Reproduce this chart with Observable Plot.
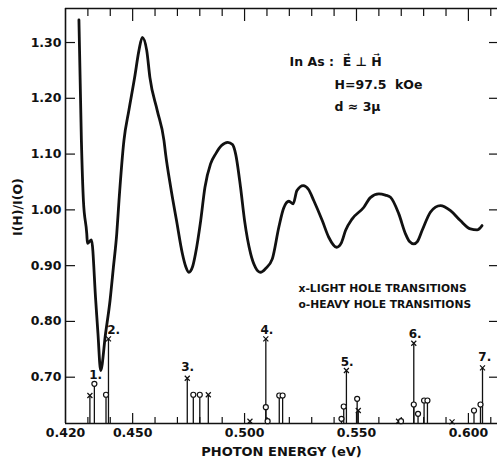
<!DOCTYPE html>
<html><head><meta charset="utf-8">
<script src="https://cdn.jsdelivr.net/npm/d3@7"></script>
<script src="https://cdn.jsdelivr.net/npm/@observablehq/plot@0.6"></script>
<style>html,body{margin:0;padding:0;background:#fff}#chart svg{display:block}</style>
</head><body><div id="chart"></div>
<script>
// Photon energy (eV) and I(H)/I(0) along the traced curve
const curveE = [0.4260,0.4271,0.4280,0.4295,0.4298,0.4316,0.4335,0.4345,0.4357,0.4379,0.4399,0.4414,0.4429,0.4439,0.4461,0.4483,0.4509,0.4528,0.4543,0.4563,0.4577,0.4610,0.4640,0.4647,0.4670,0.4696,0.4722,0.4737,0.4751,0.4768,0.4781,0.4804,0.4823,0.4848,0.4871,0.4897,0.4925,0.4946,0.4960,0.4982,0.5000,0.5027,0.5049,0.5071,0.5094,0.5124,0.5153,0.5174,0.5198,0.5217,0.5234,0.5262,0.5286,0.5309,0.5347,0.5376,0.5411,0.5433,0.5451,0.5481,0.5533,0.5562,0.5600,0.5629,0.5652,0.5689,0.5719,0.5737,0.5756,0.5772,0.5793,0.5830,0.5853,0.5875,0.5920,0.5964,0.6009,0.6039,0.6061];
const curveV = [1.3405,1.1242,1.0167,0.9575,0.9401,0.9462,0.8375,0.7783,0.7120,0.7783,0.8375,0.8971,0.9575,1.0167,1.1242,1.1780,1.2376,1.2855,1.3093,1.2855,1.2376,1.1780,1.1242,1.1009,1.0405,0.9808,0.9217,0.8984,0.8882,0.8984,0.9217,0.9808,1.0405,1.0824,1.1004,1.1152,1.1211,1.1170,1.1004,1.0405,0.9808,0.9217,0.8966,0.8882,0.8948,0.9122,0.9688,1.0023,1.0154,1.0108,1.0346,1.0435,1.0364,1.0167,0.9808,0.9509,0.9330,0.9414,0.9629,0.9839,1.0047,1.0220,1.0287,1.0265,1.0226,0.9928,0.9570,0.9432,0.9391,0.9432,0.9629,0.9957,1.0050,1.0077,0.9987,0.9808,0.9659,0.9642,0.9719];

// Light hole transitions (x)
const lightE = [0.4309,0.4392,0.4744,0.4838,0.5024,0.5095,0.5455,0.5508,0.5688,0.5756,0.5927,0.6063];
const lightV = [0.6672,0.7688,0.6982,0.6685,0.6211,0.7688,0.7120,0.6403,0.6211,0.7609,0.6200,0.7168];
// Heavy hole transitions (o)
const heavyE = [0.4329,0.4381,0.4771,0.4800,0.5095,0.5103,0.5155,0.5170,0.5433,0.5443,0.5503,0.5699,0.5756,0.5775,0.5802,0.5817,0.6025,0.6054];
const heavyV = [0.6882,0.6685,0.6685,0.6685,0.6462,0.6211,0.6672,0.6672,0.6254,0.6475,0.6613,0.6211,0.6511,0.6344,0.6582,0.6582,0.6403,0.6511];
// Numbered transition labels
const labelText = ["1.","2.","3.","4.","5.","6.","7."];
const labelE = [0.4335,0.4415,0.4746,0.5100,0.5458,0.5762,0.6073];
const labelV = [0.7030,0.7837,0.7174,0.7837,0.7263,0.7765,0.7353];

// Axes
const xDomain = [0.420, 0.613];
const yDomain = [0.617, 1.361];
const xLabelTicks = [0.42, 0.45, 0.50, 0.55, 0.60];
const xMajorTicks = [0.45, 0.50, 0.55, 0.60];
const xMinorTicks = [0.43, 0.44, 0.46, 0.47, 0.48, 0.49, 0.51, 0.52, 0.53, 0.54, 0.56, 0.57, 0.58, 0.59, 0.61];
const yTicks = [0.70, 0.80, 0.90, 1.00, 1.10, 1.20, 1.30];

// Text annotations
const noteText = ["In As :  E\u20D7 \u22A5 H\u20D7", "H=97.5  kOe", "d \u2248 3\u03BC"];
const noteE = [0.5201, 0.5402, 0.5402];
const noteV = [1.2658, 1.2245, 1.1851];
const legendText = ["x-LIGHT HOLE TRANSITIONS", "o-HEAVY HOLE TRANSITIONS"];
const legendE = [0.5241, 0.5241];
const legendV = [0.859, 0.830];

const curve = curveE.map((E, i) => ({E, v: curveV[i]}));
const light = lightE.map((E, i) => ({E, v: lightV[i]}));
const heavy = heavyE.map((E, i) => ({E, v: heavyV[i]}));
const labels = labelText.map((t, i) => ({t, E: labelE[i], v: labelV[i]}));
const notes = noteText.map((t, i) => ({t, E: noteE[i], v: noteV[i]}));
const legend = legendText.map((t, i) => ({t, E: legendE[i], v: legendV[i]}));
const stems = light.concat(heavy);

const ink = "#111";
const font = "DejaVu Sans";
const blank = () => "";

const chart = Plot.plot({
  width: 497,
  height: 466,
  marginLeft: 65,
  marginRight: 0,
  marginTop: 8,
  marginBottom: 43,
  x: {domain: xDomain},
  y: {domain: yDomain},
  style: {fontFamily: font, color: ink, background: "white", overflow: "visible"},
  marks: [
    // frame (left, top, bottom)
    Plot.ruleX([xDomain[0]], {stroke: ink, strokeWidth: 1.6}),
    Plot.ruleY([yDomain[0]], {stroke: ink, strokeWidth: 1.6}),
    Plot.ruleY([yDomain[1]], {stroke: ink, strokeWidth: 1.4}),
    // inward ticks
    Plot.axisY(yTicks, {anchor: "left", label: null, tickSize: 10, dx: 10, tickFormat: blank, stroke: ink, strokeWidth: 1.2}),
    Plot.axisY(yTicks, {anchor: "right", label: null, tickSize: 9, dx: -9, tickFormat: blank, stroke: ink, strokeWidth: 1.2}),
    Plot.axisY(yTicks, {anchor: "left", label: null, tickSize: 0, tickPadding: 4, tickFormat: d3.format(".2f"), fontSize: 12.5, fontWeight: "bold", fill: ink}),
    Plot.axisX(xMajorTicks, {anchor: "top", label: null, tickSize: 12, dy: 12, tickFormat: blank, stroke: ink, strokeWidth: 1.2}),
    Plot.axisX(xMinorTicks, {anchor: "top", label: null, tickSize: 7, dy: 7, tickFormat: blank, stroke: ink, strokeWidth: 1.2}),
    Plot.axisX(xMajorTicks, {anchor: "bottom", label: null, tickSize: 10, dy: -10, tickFormat: blank, stroke: ink, strokeWidth: 1.2}),
    Plot.axisX(xMinorTicks, {anchor: "bottom", label: null, tickSize: 6, dy: -6, tickFormat: blank, stroke: ink, strokeWidth: 1.2}),
    Plot.axisX(xLabelTicks, {anchor: "bottom", label: null, tickSize: 0, tickPadding: 5, tickFormat: d3.format(".3f"), fontSize: 12.5, fontWeight: "bold", fill: ink}),
    // axis titles
    Plot.text(["PHOTON ENERGY (eV)"], {text: d => d, frameAnchor: "bottom", dy: 32, dx: 0, fontSize: 13, fontWeight: "bold", fill: ink}),
    Plot.text(["I(H)/I(O)"], {text: d => d, frameAnchor: "left", dx: -48, dy: 20, rotate: -90, fontSize: 12.5, fontWeight: "bold", fill: ink}),
    // curve
    Plot.line(curve, {x: "E", y: "v", curve: "monotone-x", stroke: ink, strokeWidth: 2.8, strokeLinejoin: "round"}),
    // transition stems and markers
    Plot.ruleX(stems, {x: "E", y1: yDomain[0], y2: "v", stroke: ink, strokeWidth: 1.3}),
    Plot.dot(light, {x: "E", y: "v", symbol: "times", r: 2.4, stroke: ink, strokeWidth: 1.2}),
    Plot.dot(heavy, {x: "E", y: "v", symbol: "circle", r: 2.5, stroke: ink, fill: "white", strokeWidth: 1.2}),
    Plot.text(labels, {x: "E", y: "v", text: "t", fontSize: 12, fontWeight: "bold", fill: ink}),
    // annotations
    Plot.text(notes, {x: "E", y: "v", text: "t", textAnchor: "start", fontSize: 12.5, fontWeight: "bold", fill: ink}),
    Plot.text(legend, {x: "E", y: "v", text: "t", textAnchor: "start", fontSize: 10.7, fontWeight: "bold", fill: ink})
  ]
});
document.getElementById("chart").appendChild(chart);
</script>
</body></html>
